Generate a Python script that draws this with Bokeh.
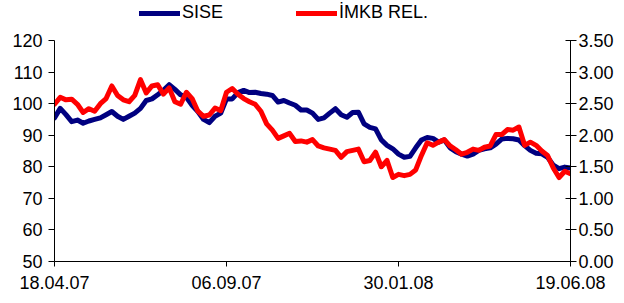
from bokeh.plotting import figure
from bokeh.models import Range1d, LinearAxis, FixedTicker, Legend, LegendItem, NumeralTickFormatter
from bokeh.embed import file_html
from bokeh.resources import INLINE

# trading-day index (category positions) and tick labels
tick_pos = [0, 30, 60, 90]
tick_labels = ["18.04.07", "06.09.07", "30.01.08", "19.06.08"]

# SISE (left axis)
sise = [95.5, 98.5, 96.5, 94.3, 94.8, 93.8, 94.5, 95.0, 95.5, 96.5,
        97.5, 96.0, 95.0, 96.0, 97.0, 98.5, 101.0, 101.5, 102.8, 104.2,
        106.0, 104.5, 102.8, 102.0, 99.5, 97.5, 95.0, 94.0, 96.0, 97.0,
        101.5, 101.5, 103.5, 104.2, 103.5, 103.6, 103.2, 103.0, 102.6, 100.5,
        101.0, 100.2, 99.5, 98.0, 98.0, 97.0, 95.0, 95.5, 97.0, 98.4,
        96.5, 95.7, 97.2, 97.3, 93.6, 92.5, 92.0, 88.5, 86.8, 85.7,
        84.0, 83.0, 83.3, 86.0, 88.5, 89.3, 89.0, 87.8, 88.5, 86.0,
        84.8, 84.0, 83.4, 84.0, 85.2, 85.7, 86.0, 87.2, 88.8, 89.0,
        88.9, 88.5, 86.7, 85.2, 84.3, 84.1, 83.0, 80.5, 79.4, 79.9, 79.6]

# IMKB relative (right axis)
imkb_rel = [2.49, 2.60, 2.56, 2.57, 2.49, 2.36, 2.42, 2.38, 2.50, 2.58,
            2.78, 2.63, 2.56, 2.53, 2.63, 2.88, 2.67, 2.78, 2.80, 2.65,
            2.75, 2.53, 2.49, 2.68, 2.58, 2.38, 2.30, 2.32, 2.43, 2.39,
            2.68, 2.74, 2.65, 2.58, 2.53, 2.49, 2.38, 2.18, 2.08, 1.95,
            1.99, 2.03, 1.90, 1.91, 1.89, 1.93, 1.83, 1.80, 1.78, 1.76,
            1.65, 1.74, 1.76, 1.78, 1.58, 1.60, 1.73, 1.50, 1.60, 1.33,
            1.38, 1.36, 1.38, 1.45, 1.68, 1.88, 1.84, 1.89, 1.93, 1.83,
            1.77, 1.70, 1.73, 1.78, 1.76, 1.81, 1.83, 2.01, 2.01, 2.09,
            2.08, 2.13, 1.84, 1.89, 1.84, 1.75, 1.68, 1.48, 1.33, 1.43, 1.39]

left_ticks = [50, 60, 70, 80, 90, 100, 110, 120]
right_ticks = [0.0, 0.5, 1.0, 1.5, 2.0, 2.5, 3.0, 3.5]

x = list(range(len(sise)))

FONT = "Liberation Sans"
FS = "18px"

# frame extends to the top of the figure so the legend can sit inside it;
# the axis lines are bounded to the real value ranges
y_top = 50 + 261 * 70 / 221
p = figure(width=616, height=295, output_backend="svg", toolbar_location=None,
           x_range=Range1d(0, 90), y_range=Range1d(50, y_top),
           min_border_left=54, min_border_right=43, min_border_top=0, min_border_bottom=34)
p.outline_line_color = None
p.xgrid.visible = False
p.ygrid.visible = False
p.background_fill_color = "white"
p.border_fill_color = "white"

p.extra_y_ranges = {"rel": Range1d(0, (y_top - 50) / 20)}

r1 = p.line(x, sise, line_color="#000080", line_width=5, line_join="round", line_cap="round")
r2 = p.line(x, imkb_rel, y_range_name="rel", line_color="#FF0000", line_width=5,
            line_join="round", line_cap="round")

def style(ax):
    ax.axis_line_color = "black"
    ax.major_tick_line_color = "black"
    ax.minor_tick_line_color = None
    ax.major_label_text_font = FONT
    ax.major_label_text_font_size = FS
    ax.major_label_text_color = "black"

# bottom axis
xa = p.xaxis[0]
xa.ticker = FixedTicker(ticks=tick_pos)
xa.major_label_overrides = {t: l for t, l in zip(tick_pos, tick_labels)}
xa.major_tick_in = 0
xa.major_tick_out = 5
xa.major_label_standoff = 9
style(xa)

# left axis
ya = p.yaxis[0]
ya.ticker = FixedTicker(ticks=left_ticks)
ya.bounds = (50, 120)
ya.major_tick_in = 0
ya.major_tick_out = 6
ya.major_label_standoff = 6
style(ya)

# right axis
ra = LinearAxis(y_range_name="rel", ticker=FixedTicker(ticks=right_ticks),
                formatter=NumeralTickFormatter(format="0.00"), bounds=(0, 3.5))
ra.major_tick_in = 5
ra.major_tick_out = 6
ra.major_label_standoff = 2
style(ra)
p.add_layout(ra, "right")

def mk_legend(label, rend, loc):
    lg = Legend(items=[LegendItem(label=label, renderers=[rend])], location=loc,
                orientation="horizontal", padding=0, margin=0, spacing=0,
                glyph_width=41, glyph_height=20, label_height=20, label_standoff=2,
                label_text_font=FONT, label_text_font_size=FS, label_text_color="black",
                border_line_color=None, background_fill_alpha=0)
    p.add_layout(lg)

mk_legend("SISE", r1, (85, 238))
mk_legend("İMKB REL.", r2, (242, 238))

open("out.html", "w").write(file_html(p, INLINE))
